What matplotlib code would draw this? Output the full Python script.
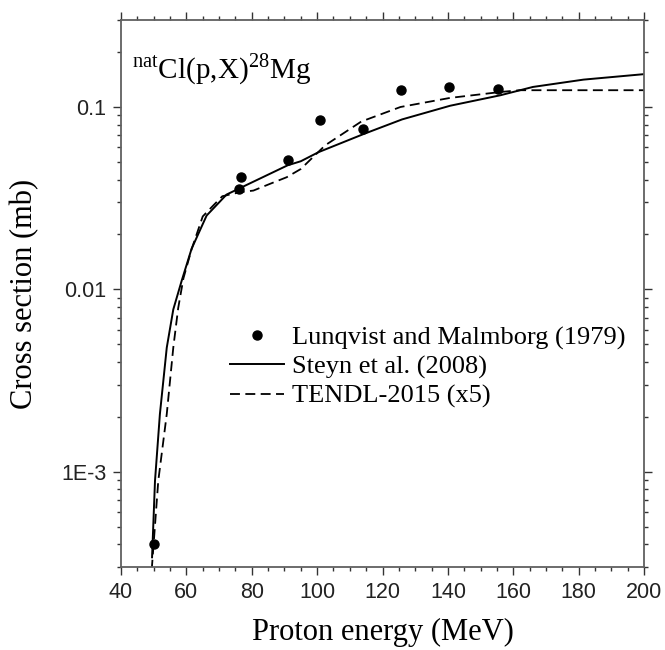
import matplotlib.pyplot as plt
import matplotlib.ticker as mticker

# experimental points, Lunqvist and Malmborg (1979)
exp_energy = [50.1, 76.2, 76.6, 91.2, 100.9, 114.1, 125.7, 140.4, 155.2]
exp_xs = [4.0e-4, 0.0356, 0.0412, 0.0509, 0.0845, 0.0754, 0.1235, 0.128, 0.126]

# Steyn et al. (2008)
steyn_energy = [49.5, 50.4, 51.9, 54.0, 56.0, 58.6, 61.6, 66.2, 72.3, 76.4, 82.5,
                91.0, 95.0, 100.5, 114.5, 126.0, 140.7, 156.0, 166.0, 181.5, 200.0]
steyn_xs = [3.39e-4, 8.9e-4, 2.07e-3, 4.79e-3, 7.76e-3, 0.0112, 0.0167, 0.0254, 0.0331,
            0.0359, 0.0405, 0.0479, 0.0504, 0.0566, 0.0714, 0.0855, 0.1016, 0.1159,
            0.1288, 0.1413, 0.1514]

# TENDL-2015 (x5)
tendl_energy = [49.4, 51.4, 54.0, 56.0, 57.5, 59.1, 61.6, 65.0, 68.2, 71.0, 76.4, 80.5,
                85.6, 90.7, 95.0, 102.5, 113.5, 125.5, 140.7, 156.0, 162.0, 200.0]
tendl_xs = [2.9e-4, 8.9e-4, 2.07e-3, 4.8e-3, 7.9e-3, 0.0115, 0.0166, 0.0251, 0.0288,
            0.0324, 0.0341, 0.0348, 0.0379, 0.0412, 0.0457, 0.0617, 0.0832, 0.1,
            0.1122, 0.1208, 0.1236, 0.1236]

serif = 'Liberation Serif'
sans = 'Liberation Sans'
plt.rcParams['mathtext.fontset'] = 'custom'
plt.rcParams['mathtext.rm'] = serif

fig = plt.figure(figsize=(6.65, 6.5), dpi=100)
ax = fig.add_axes([121/665, 83/650, 523/665, 547/650])

ax.plot(steyn_energy, steyn_xs, '-', color='black', lw=1.4, label='Steyn et al. (2008)')
ax.plot(tendl_energy, tendl_xs, '--', color='black', lw=1.3, dashes=(5.5, 3.0),
        label='TENDL-2015 (x5)')
ax.plot(exp_energy, exp_xs, 'o', color='black', ms=6.5, ls='none', zorder=5,
        label='Lunqvist and Malmborg (1979)')

ax.set_yscale('log')
ax.set_xlim(40, 200)
ax.set_ylim(3e-4, 0.3)

ax.xaxis.set_major_locator(mticker.MultipleLocator(20))
ax.xaxis.set_minor_locator(mticker.MultipleLocator(5))
ax.yaxis.set_major_locator(mticker.FixedLocator([1e-3, 1e-2, 1e-1]))
ax.yaxis.set_major_formatter(mticker.FixedFormatter(['1E-3', '0.01', '0.1']))
ax.yaxis.set_minor_locator(mticker.LogLocator(base=10, subs=range(2, 10)))
ax.yaxis.set_minor_formatter(mticker.NullFormatter())

for s in ax.spines.values():
    s.set_color('#606060')
    s.set_linewidth(1.3)
ax.tick_params(which='both', direction='out', top=True, right=True, color='#333333', width=1.0)
ax.tick_params(which='major', length=5.5, pad=5, labelsize=15.5)
ax.tick_params(which='minor', length=3)
for lab in ax.get_xticklabels() + ax.get_yticklabels():
    lab.set_fontfamily(sans)
    lab.set_color('#222222')

ax.set_xlabel('Proton energy (MeV)', fontsize=22, family=serif, labelpad=11)
ax.set_ylabel('Cross section (mb)', fontsize=22, family=serif, labelpad=16)

ax.text(0.021, 0.894, r'$^{\rm nat}$Cl(p,X)$^{28}$Mg', transform=ax.transAxes,
        fontsize=21, family=serif, va='baseline', ha='left')

h, l = ax.get_legend_handles_labels()
order = [2, 0, 1]
ax.legend([h[i] for i in order], [l[i] for i in order], loc='upper left',
          bbox_to_anchor=(0.2076, 0.4406), frameon=False, prop={'family': serif, 'size': 19},
          handlelength=2.08, handletextpad=0.3, labelspacing=0.2, borderpad=0,
          borderaxespad=0)

fig.savefig('out.png', dpi=100)
